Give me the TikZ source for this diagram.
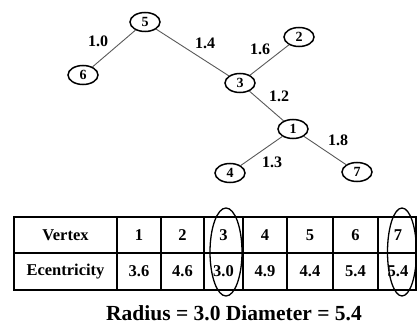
\documentclass[tikz,border=0pt]{standalone}
\usepackage{fontspec}
\setmainfont{Liberation Serif}
\usetikzlibrary{shapes.geometric}

\tikzset{
  vtx/.style={ellipse, draw, line width=1.5pt, minimum width=30pt,
    minimum height=19pt, inner sep=0pt, font=\bfseries\fontsize{14}{14}\selectfont},
  wlabel/.style={font=\bfseries\fontsize{16}{16}\selectfont},
  tedge/.style={draw=black!65, line width=0.9pt},
  cell/.style={font=\bfseries\fontsize{16.5}{16.5}\selectfont},
  ring/.style={ellipse, draw, line width=1.3pt, inner sep=0pt}
}

\begin{document}
\begin{tikzpicture}[x=1pt,y=-1pt]
\useasboundingbox (0,0) rectangle (417,326);
% Tree with edge weights
\node[vtx] (n5) at (145,22) {5};
\node[vtx] (n6) at (83,75) {6};
\node[vtx] (n3) at (240,83) {3};
\node[vtx] (n2) at (299,37) {2};
\node[vtx] (n1) at (293,129) {1};
\node[vtx] (n4) at (230,173) {4};
\node[vtx] (n7) at (357,172) {7};
\draw[tedge] (n5) -- (n6);
\draw[tedge] (n5) -- (n3);
\draw[tedge] (n3) -- (n2);
\draw[tedge] (n3) -- (n1);
\draw[tedge] (n1) -- (n4);
\draw[tedge] (n1) -- (n7);
\node[wlabel] (w56) at (98,41) {1.0};
\node[wlabel] (w53) at (205,43) {1.4};
\node[wlabel] (w32) at (260,49) {1.6};
\node[wlabel] (w31) at (279,96) {1.2};
\node[wlabel] (w14) at (272,162) {1.3};
\node[wlabel] (w17) at (338,140) {1.8};

% Eccentricity table
\draw[line width=1.6pt] (14,217) rectangle (416,290);
\draw[line width=1.6pt] (14,253) -- (416,253);
\foreach \x in {117,161,204,243,287,333,378}
  \draw[line width=1.6pt] (\x,217) -- (\x,290);
\node[cell] (hv) at (65.5,235) {Vertex};
\node[cell] (he) at (65.5,271.5) {Ecentricity};
\foreach \i/\x/\e in {1/139/3.6, 2/182.5/4.6, 3/223.5/3.0, 4/265/4.9,
                      5/310/4.4, 6/355.5/5.4, 7/398/5.4} {
  \node[cell] (v\i) at (\x,235) {\i};
  \node[cell] (e\i) at (\x,271.5) {\e};
}
\node[ring, minimum width=32pt, minimum height=88pt] (c3) at (226,252) {};
\node[ring, minimum width=29pt, minimum height=88pt] (c7) at (402,252) {};

\node[font=\bfseries\fontsize{21.5}{21.5}\selectfont] (rd) at (234,313)
  {Radius = 3.0 Diameter = 5.4};
\end{tikzpicture}
\end{document}
